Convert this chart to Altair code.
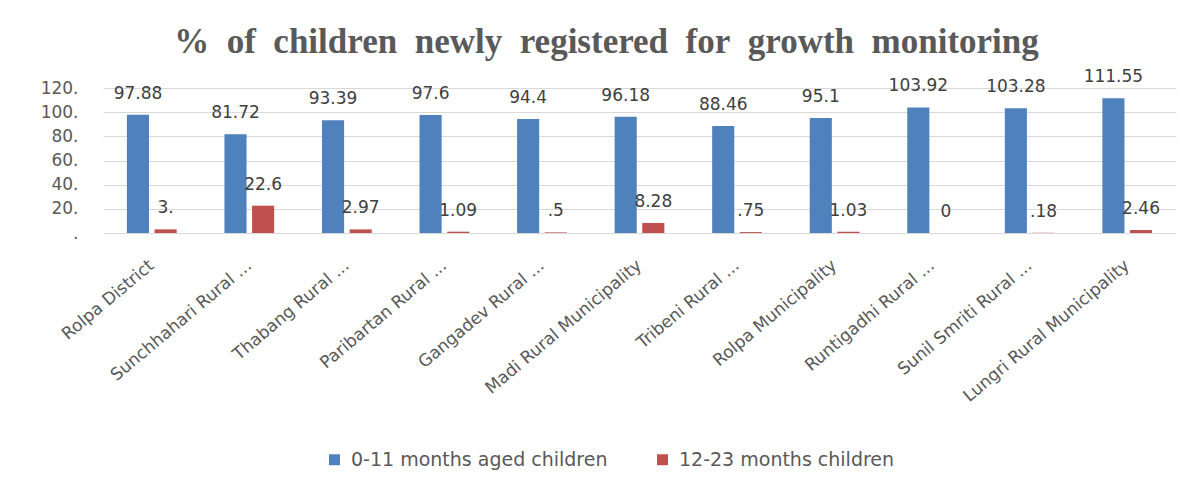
import altair as alt
import pandas as pd

categories = [
    "Rolpa District",
    "Sunchhahari Rural ...",
    "Thabang Rural ...",
    "Paribartan Rural ...",
    "Gangadev Rural ...",
    "Madi Rural Municipality",
    "Tribeni Rural ...",
    "Rolpa Municipality",
    "Runtigadhi Rural ...",
    "Sunil Smriti Rural ...",
    "Lungri Rural Municipality",
]
series = ["0-11 months aged children", "12-23 months children"]
infant_values = [97.88, 81.72, 93.39, 97.6, 94.4, 96.18, 88.46, 95.1, 103.92, 103.28, 111.55]
infant_labels = ["97.88", "81.72", "93.39", "97.6", "94.4", "96.18", "88.46", "95.1", "103.92", "103.28", "111.55"]
toddler_values = [3.0, 22.6, 2.97, 1.09, 0.5, 8.28, 0.75, 1.03, 0.0, 0.18, 2.46]
toddler_labels = ["3.", "22.6", "2.97", "1.09", ".5", "8.28", ".75", "1.03", "0", ".18", "2.46"]
y_ticks = [0, 20, 40, 60, 80, 100, 120]
title_words = ["%", "of", "children", "newly", "registered", "for", "growth", "monitoring"]

rows = []
for i, c in enumerate(categories):
    rows.append(dict(cat=c, series=series[0], value=infant_values[i], label=infant_labels[i]))
    rows.append(dict(cat=c, series=series[1], value=toddler_values[i], label=toddler_labels[i]))
df = pd.DataFrame(rows)

x = alt.X(
    "cat:N",
    sort=categories,
    scale=alt.Scale(paddingInner=0.49, paddingOuter=0.245),
    axis=alt.Axis(
        title=None, labelAngle=-40, labelAlign="right", labelBaseline="middle",
        labelPadding=30, labelFontSize=17, labelColor="#595959", labelFont="DejaVu Sans",
        ticks=False, domain=False, labelLimit=400, grid=False,
    ),
)
xoff = alt.XOffset("series:N", sort=series, scale=alt.Scale(paddingInner=0.2, paddingOuter=0))
y = alt.Y(
    "value:Q",
    scale=alt.Scale(domain=[0, 120], nice=False),
    axis=alt.Axis(
        values=y_ticks,
        labelExpr="datum.value == 0 ? '.' : datum.value + '.'",
        title=None, ticks=False, domain=False, gridColor="#d9d9d9", gridWidth=1,
        labelPadding=25, labelFontSize=17, labelColor="#595959", labelFont="DejaVu Sans",
    ),
)
color = alt.Color(
    "series:N",
    sort=series,
    scale=alt.Scale(domain=series, range=["#4F81BD", "#C0504D"]),
    legend=alt.Legend(
        title=None, orient="none", legendX=222, legendY=362, direction="horizontal",
        symbolType="square", symbolSize=120, labelFontSize=19, columnPadding=45,
        labelOffset=7, symbolStrokeWidth=0, labelColor="#595959", labelFont="DejaVu Sans",
        labelLimit=500,
    ),
)

bars = alt.Chart(df).mark_bar().encode(x=x, xOffset=xoff, y=y, color=color)
text = alt.Chart(df).mark_text(
    dy=-21, baseline="middle", font="DejaVu Sans", fontSize=17, color="#404040"
).encode(x=x, xOffset=xoff, y=y, text="label:N")

chart = (
    alt.layer(bars, text)
    .properties(
        width=1073,
        height=145,
        title=alt.TitleParams(
            text="\u2002".join(title_words),
            font="Liberation Serif", fontSize=35, fontWeight="bold", color="#595959",
            anchor="middle", dx=-33, offset=8,
        ),
        padding={"left": 95, "top": 80, "right": 17, "bottom": 240},
        autosize=alt.AutoSizeParams(type="none"),
    )
    .configure_view(stroke=None)
)

chart.save("out.html", embed_options={"renderer": "svg", "actions": False})
